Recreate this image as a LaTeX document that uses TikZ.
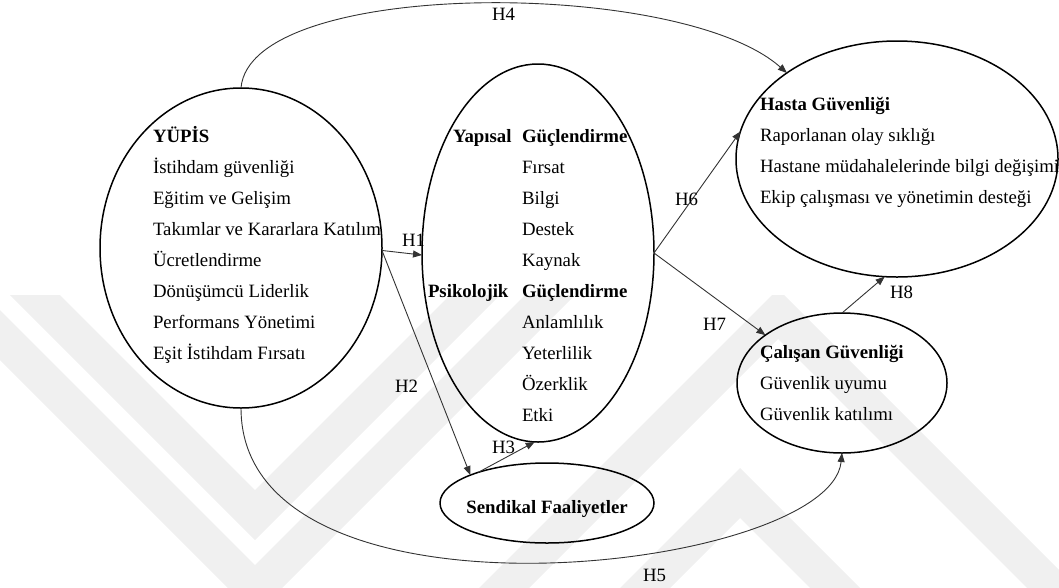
\documentclass[tikz,border=0pt]{standalone}
\usepackage{fontspec}
\setmainfont{Liberation Serif}
\usetikzlibrary{arrows.meta,shapes.geometric}

\begin{document}
\begin{tikzpicture}[x=1pt,y=-1pt,
  every node/.style={font=\rmfamily\fontsize{18.8}{18.8}\selectfont, inner sep=0pt, outer sep=0pt},
  construct/.style={draw=black, line width=1.5pt, ellipse, inner sep=0pt, outer sep=0pt},
  link/.style={draw=black!80, line width=0.9pt, -{Triangle[length=9pt,width=7pt]}},
  item/.style={anchor=base west},
  head/.style={anchor=base west, font=\rmfamily\fontsize{18.8}{18.8}\selectfont\bfseries},
  hyp/.style={anchor=base west},
  wmark/.style={fill=black!6, draw=none}
]
\useasboundingbox (0,0) rectangle (1059,587);

% faint chevron background
\begin{scope}
  \clip (0,295) rectangle (1059,587);
  \fill[wmark] (10,295) -- (60,295) -- (255,490) -- (450,295) -- (500,295) -- (255,540) -- cycle;
  \fill[wmark] (-100,260) -- (-50,260) -- (255,565) -- (560,260) -- (610,260) -- (255,615) -- cycle;
  \fill[wmark] (778,289) -- (1100,611) -- (1050,611) -- (778,339) -- (506,611) -- (456,611) -- cycle;
  \fill[wmark] (740,468) -- (900,628) -- (850,628) -- (740,518) -- (630,628) -- (580,628) -- cycle;
\end{scope}

% constructs
\node[construct, minimum width=282pt, minimum height=320pt] (yupis) at (241,248) {};
\node[construct, minimum width=232pt, minimum height=378pt] (guc) at (538,253) {};
\node[construct, minimum width=322pt, minimum height=236pt] (hasta) at (897,159) {};
\node[construct, minimum width=210pt, minimum height=140pt] (calisan) at (842,383) {};
\node[construct, minimum width=214pt, minimum height=80pt] (sendika) at (547,503) {};

% YÜPİS items
\node[head] (yupis-t) at (153,142) {YÜPİS};
\foreach \t [count=\i from 1] in {İstihdam güvenliği, Eğitim ve Gelişim,
    Takımlar ve Kararlara Katılım, Ücretlendirme, Dönüşümcü Liderlik,
    Performans Yönetimi, Eşit İstihdam Fırsatı}
  \node[item] (yupis-\i) at (153,{142+31.1*\i}) {\t};

% empowerment items
\node[head] (yap-a) at (453,142) {Yapısal};
\node[head] (yap-b) at (522,142) {Güçlendirme};
\foreach \t [count=\i from 1] in {Fırsat, Bilgi, Destek, Kaynak}
  \node[item] (yap-\i) at (522,{142+31.1*\i}) {\t};
\node[head] (psi-a) at (428,297.5) {Psikolojik};
\node[head] (psi-b) at (522,297.5) {Güçlendirme};
\foreach \t [count=\i from 1] in {Anlamlılık, Yeterlilik, Özerklik, Etki}
  \node[item] (psi-\i) at (522,{297.5+31.1*\i}) {\t};

% patient safety items
\node[head] (hasta-t) at (760,110) {Hasta Güvenliği};
\foreach \t [count=\i from 1] in {Raporlanan olay sıklığı,
    Hastane müdahalelerinde bilgi değişimi, Ekip çalışması ve yönetimin desteği}
  \node[item] (hasta-\i) at (760,{110+31*\i}) {\t};

% employee safety items
\node[head] (calisan-t) at (760,358) {Çalışan Güvenliği};
\foreach \t [count=\i from 1] in {Güvenlik uyumu, Güvenlik katılımı}
  \node[item] (calisan-\i) at (760,{358+31*\i}) {\t};

% union activities
\node[anchor=base, font=\rmfamily\fontsize{18.8}{18.8}\selectfont\bfseries] (sendika-t) at (547,513) {Sendikal Faaliyetler};

% hypotheses
\draw[link] (yupis.-1) -- (guc.181);
\draw[link] (yupis.-1) -- (sendika.160);
\draw[link] (sendika.156) -- (guc.-91);
\draw[link] (yupis.north) .. controls (250,-22) and (680,-22) .. (hasta.142);
\draw[link] (yupis.south) .. controls (241,640) and (830,572) .. (calisan.south);
\draw[link] (guc.east) -- (hasta.170);
\draw[link] (guc.east) -- (calisan.148);
\draw[link] (calisan.north) -- (hasta.-96);

\node[hyp] (h1) at (402,246) {H1};
\node[hyp] (h2) at (395,392) {H2};
\node[hyp] (h3) at (492,453) {H3};
\node[hyp] (h4) at (492,20) {H4};
\node[hyp] (h5) at (643,581) {H5};
\node[hyp] (h6) at (675,205) {H6};
\node[hyp] (h7) at (703,330) {H7};
\node[hyp] (h8) at (890,298) {H8};
\end{tikzpicture}
\end{document}
